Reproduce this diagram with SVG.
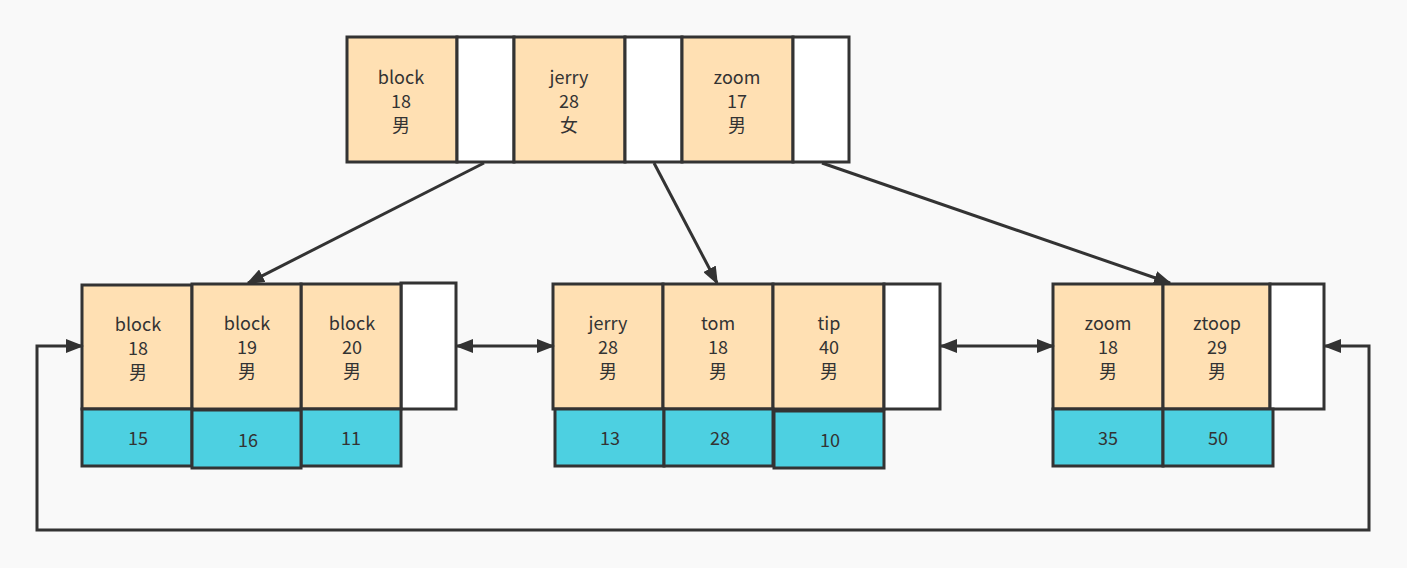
<svg xmlns="http://www.w3.org/2000/svg" width="1407" height="568" viewBox="0 0 1407 568">
<defs>
<style>
.p{fill:#ffe0b3;stroke:#333;stroke-width:3}
.w{fill:#fff;stroke:#333;stroke-width:3}
.c{fill:#4dd0e1;stroke:#333;stroke-width:3}
text{font-family:"Noto Sans CJK SC","Microsoft YaHei",sans-serif;font-size:18px;fill:#333;text-anchor:middle}
.e{fill:none;stroke:#333;stroke-width:3}
</style>
<marker id="a" markerUnits="userSpaceOnUse" markerWidth="18" markerHeight="14" refX="16" refY="7" orient="auto-start-reverse" viewBox="0 0 18 14">
<path d="M0,0 L18,7 L0,14 Z" fill="#333"/>
</marker>
</defs>
<rect width="1407" height="568" fill="#f9f9f9"/>
<g id="root">
<rect class="p" x="347" y="37" width="110" height="125"/>
<rect class="w" x="457" y="37" width="57" height="125"/>
<rect class="p" x="514" y="37" width="111" height="125"/>
<rect class="w" x="625" y="37" width="57" height="125"/>
<rect class="p" x="682" y="37" width="111" height="125"/>
<rect class="w" x="793" y="37" width="56" height="125"/>
<text x="401" y="84">block</text><text x="401" y="108">18</text><text x="401" y="132">男</text>
<text x="569" y="84">jerry</text><text x="569" y="108">28</text><text x="569" y="132">女</text>
<text x="737" y="84">zoom</text><text x="737" y="108">17</text><text x="737" y="132">男</text>
</g>
<g id="leaf1">
<rect class="p" x="82" y="285" width="110" height="124"/>
<rect class="w" x="401" y="283" width="55" height="126"/>
<rect class="p" x="301" y="284" width="100" height="125"/>
<rect class="p" x="192" y="284" width="109" height="125"/>
<rect class="c" x="82" y="409" width="110" height="57"/>
<rect class="c" x="301" y="409" width="100" height="57"/>
<rect class="c" x="192" y="410" width="109" height="58"/>
<text x="138" y="331">block</text><text x="138" y="355">18</text><text x="138" y="379">男</text>
<text x="247" y="330">block</text><text x="247" y="354">19</text><text x="247" y="378">男</text>
<text x="352" y="330">block</text><text x="352" y="354">20</text><text x="352" y="378">男</text>
<text x="138" y="445">15</text><text x="248" y="447">16</text><text x="351" y="445">11</text>
</g>
<g id="leaf2">
<rect class="p" x="553" y="284" width="110" height="125"/>
<rect class="p" x="663" y="284" width="110" height="125"/>
<rect class="p" x="773" y="284" width="111" height="125"/>
<rect class="w" x="884" y="284" width="56" height="125"/>
<rect class="c" x="555" y="409" width="109" height="57"/>
<rect class="c" x="664" y="409" width="109" height="57"/>
<rect class="c" x="774" y="411" width="110" height="57"/>
<text x="608" y="330">jerry</text><text x="608" y="354">28</text><text x="608" y="378">男</text>
<text x="718" y="330">tom</text><text x="718" y="354">18</text><text x="718" y="378">男</text>
<text x="829" y="330">tip</text><text x="829" y="354">40</text><text x="829" y="378">男</text>
<text x="610" y="445">13</text><text x="720" y="445">28</text><text x="830" y="447">10</text>
</g>
<g id="leaf3">
<rect class="p" x="1053" y="284" width="110" height="125"/>
<rect class="p" x="1163" y="284" width="107" height="125"/>
<rect class="w" x="1270" y="284" width="54" height="125"/>
<rect class="c" x="1053" y="409" width="110" height="57"/>
<rect class="c" x="1163" y="409" width="110" height="57"/>
<text x="1108" y="330">zoom</text><text x="1108" y="354">18</text><text x="1108" y="378">男</text>
<text x="1217" y="330">ztoop</text><text x="1217" y="354">29</text><text x="1217" y="378">男</text>
<text x="1108" y="445">35</text><text x="1218" y="445">50</text>
</g>
<g id="connectors">
<path class="e" d="M484,163 L248,283" marker-end="url(#a)"/>
<path class="e" d="M654,163 L717,283" marker-end="url(#a)"/>
<path class="e" d="M822,163 L1170,283" marker-end="url(#a)"/>
<path class="e" d="M457,346 L553,346" marker-start="url(#a)" marker-end="url(#a)"/>
<path class="e" d="M941,346 L1053,346" marker-start="url(#a)" marker-end="url(#a)"/>
<path class="e" d="M1325,346 L1369,346 L1369,530 L37,530 L37,346 L82,346" marker-start="url(#a)" marker-end="url(#a)"/>
</g>
</svg>
